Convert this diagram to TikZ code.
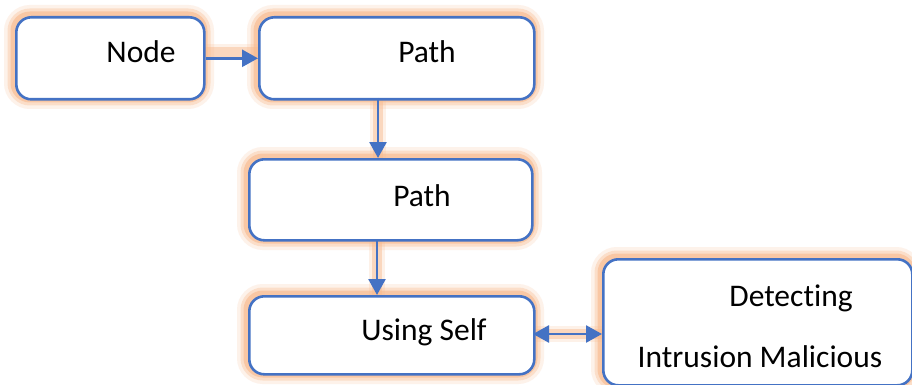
\documentclass[tikz,border=0pt]{standalone}
\usepackage{fontspec}
\setmainfont{Carlito}[Ligatures=NoCommon]
\usetikzlibrary{arrows.meta}
\definecolor{bblue}{RGB}{68,114,196}
\definecolor{glowc}{RGB}{248,185,140}
\tikzset{
  box/.style={draw=bblue, line width=2.6pt, rounded corners=15pt, fill=white},
  glowA/.style={draw=glowc, line width=22pt, opacity=0.18, rounded corners=15pt},
  glowB/.style={draw=glowc, line width=15pt, opacity=0.35, rounded corners=15pt},
  glowC/.style={draw=glowc, line width=9pt, opacity=0.6, rounded corners=15pt},
  conn/.style={draw=bblue, line width=2.6pt, -{Triangle[length=16pt,width=17pt]}},
  dconn/.style={draw=bblue, line width=2.6pt, {Triangle[length=16pt,width=17pt]}-{Triangle[length=16pt,width=17pt]}},
  cglowA/.style={draw=glowc, line width=16pt, opacity=0.2},
  cglowB/.style={draw=glowc, line width=10pt, opacity=0.45},
  lbl/.style={font=\fontsize{31.5}{38}\selectfont, inner sep=0pt, text=black},
}
\begin{document}
\begin{tikzpicture}[x=1pt,y=-1pt]
\useasboundingbox (0,0) rectangle (912,385);
\fill[white] (0,0) rectangle (912,385);
\clip (0,0) rectangle (912,385);
% coordinates of boxes
\coordinate (n1a) at (15,16);  \coordinate (n1b) at (203,98);
\coordinate (n2a) at (258,16); \coordinate (n2b) at (533,98);
\coordinate (n3a) at (248,158); \coordinate (n3b) at (531,239);
\coordinate (n4a) at (248,295); \coordinate (n4b) at (533,373);
\coordinate (n5a) at (602,258); \coordinate (n5b) at (911,384);
% glows of boxes
\foreach \a/\b in {n1a/n1b,n2a/n2b,n3a/n3b,n4a/n4b,n5a/n5b}{
  \path[glowA] (\a) rectangle (\b);
  \path[glowB] (\a) rectangle (\b);
  \path[glowC] (\a) rectangle (\b);
}
% connector glows
\foreach \p/\q in {{203,52}/{258,52},{378,98}/{378,158},{377,239}/{377,295},{533,334}/{602,334}}{
  \path[cglowA] (\p) -- (\q);
  \path[cglowB] (\p) -- (\q);
}
% boxes
\node[box, minimum width=188pt, minimum height=82pt, anchor=north west] (b1) at (n1a) {};
\node[box, minimum width=275pt, minimum height=82pt, anchor=north west] (b2) at (n2a) {};
\node[box, minimum width=283pt, minimum height=81pt, anchor=north west] (b3) at (n3a) {};
\node[box, minimum width=285pt, minimum height=78pt, anchor=north west] (b4) at (n4a) {};
\node[box, minimum width=309pt, minimum height=126pt, anchor=north west] (b5) at (n5a) {};
% labels
\node[lbl] (t1) at (141,52) {Node};
\node[lbl] (t2) at (427,52) {Path};
\node[lbl] (t3) at (422,196) {Path};
\node[lbl] (t4) at (424,332) {Using Self};
\node[lbl] (t5) at (791,298) {Detecting};
\node[lbl] (t6) at (760,357) {Intrusion Malicious};
% connectors
\coordinate (c2s) at (378,98);  \coordinate (c3n) at (378,158);
\coordinate (c3s) at (377,239); \coordinate (c4n) at (377,295);
\coordinate (c4e) at (533,334); \coordinate (c5w) at (602,334);
\draw[conn] (b1.east) -- (b2.west);
\draw[conn] (c2s) -- (c3n);
\draw[conn] (c3s) -- (c4n);
\draw[dconn] (c4e) -- (c5w);
\end{tikzpicture}
\end{document}
